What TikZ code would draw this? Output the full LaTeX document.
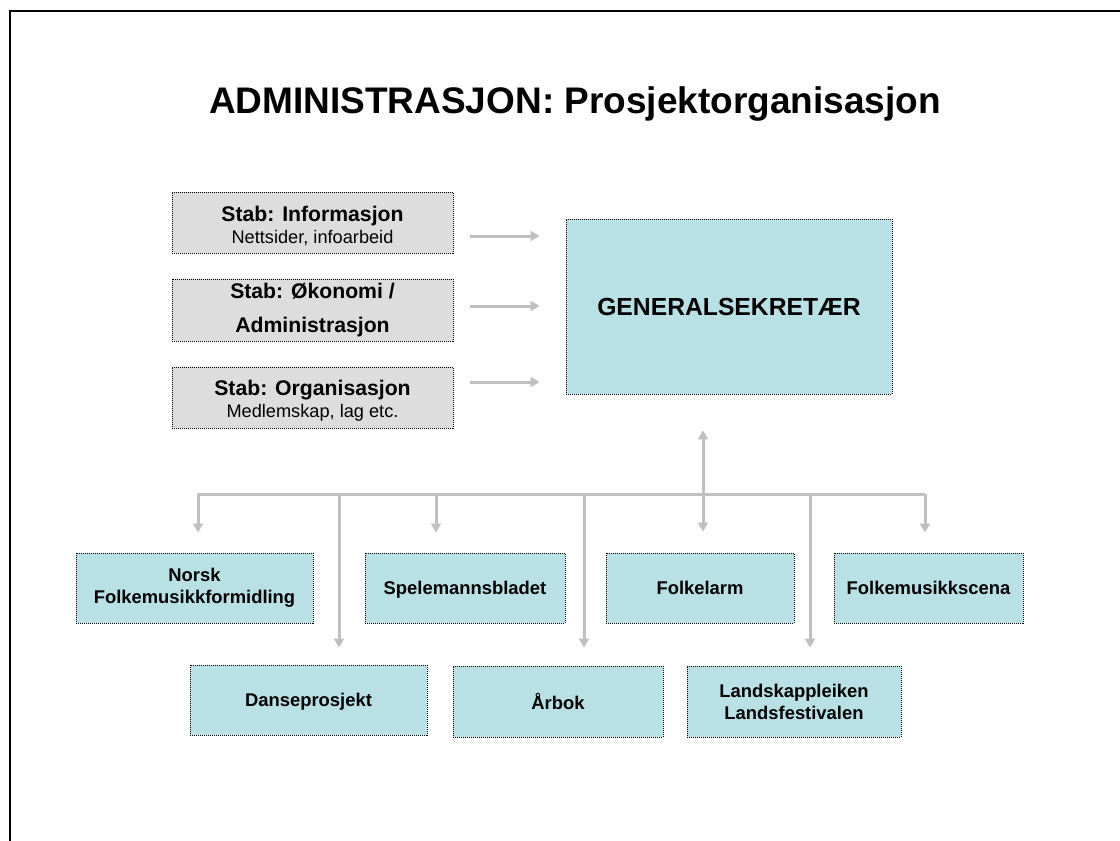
\documentclass[tikz,border=0pt]{standalone}
\usepackage{fontspec}
\setmainfont{Liberation Sans}
\usetikzlibrary{arrows.meta,calc}
\definecolor{boxcyan}{RGB}{185,224,228}
\definecolor{boxgray}{RGB}{221,221,221}
\definecolor{arrowgray}{RGB}{192,192,192}
\tikzset{
  orgbox/.style={draw=black, line width=0.9pt, dash pattern=on 1pt off 1pt,
    fill=boxcyan, align=center, inner sep=0pt,
    font=\fontsize{18.4}{22}\selectfont\bfseries},
  stabbox/.style={orgbox, fill=boxgray, minimum width=281pt,
    font=\fontsize{21.2}{22}\selectfont\bfseries},
  conn/.style={draw=arrowgray, line width=3pt,
    -{Triangle[length=9pt,width=10pt]}},
  bus/.style={draw=arrowgray, line width=3pt},
}
\newcommand{\subline}[1]{\fontsize{18.2}{22}\selectfont\mdseries #1}
\newcommand{\nodepth}[1]{\raisebox{0pt}[\height][0pt]{#1}}
\newcommand{\tallstrut}{\rule{0pt}{22.5pt}}
\begin{document}
\begin{tikzpicture}[x=1pt,y=-1pt]
\useasboundingbox (0,0) rectangle (1120,841);
\draw[line width=2pt] (10,841) -- (10,11) -- (1120,11);

\node[anchor=base, font=\fontsize{37}{40}\selectfont\bfseries] (title) at (575,113) {ADMINISTRASJON: Prosjektorganisasjon};

% staff boxes
\node[stabbox, minimum height=61pt] (s1) at (312.5,222.5)
  {\tallstrut Stab: Informasjon\\\subline{Nettsider, infoarbeid}};
\node[stabbox, minimum height=62pt, font=\fontsize{21.2}{34}\selectfont\bfseries] (s2) at (312.5,310)
  {Stab: Økonomi /\\Administrasjon};
\node[stabbox, minimum height=61pt] (s3) at (312.5,397.5)
  {\tallstrut Stab: Organisasjon\\\subline{Medlemskap, lag etc.}};

% general secretary
\node[orgbox, minimum width=326pt, minimum height=175pt,
  font=\fontsize{24.7}{28}\selectfont\bfseries] (gs) at (729,306.5) {GENERALSEKRETÆR};

% project boxes, row 1
\node[orgbox, minimum width=237pt, minimum height=70pt] (nf) at (194.5,588) {Norsk\\Folkemusikkformidling};
\node[orgbox, minimum width=200pt, minimum height=70pt] (sp) at (465,588) {\nodepth{Spelemannsbladet}};
\node[orgbox, minimum width=188pt, minimum height=70pt] (fl) at (700,588) {Folkelarm};
\node[orgbox, minimum width=189pt, minimum height=70pt] (fs) at (928.5,588) {Folkemusikkscena};
% row 2
\node[orgbox, minimum width=237pt, minimum height=70pt] (dp) at (308.5,700) {\nodepth{Danseprosjekt}};
\node[orgbox, minimum width=210pt, minimum height=71pt] (ab) at (558,701.5) {Årbok};
\node[orgbox, minimum width=214pt, minimum height=71pt] (lk) at (794,701.5) {Landskappleiken\\Landsfestivalen};

% staff arrows
\coordinate (a1) at (0,236);
\coordinate (a2) at (0,306);
\coordinate (a3) at (0,382);
\draw[conn, shorten <=17pt, shorten >=26pt] (s1.east |- a1) -- (gs.west |- a1);
\draw[conn, shorten <=17pt, shorten >=26pt] (s2.east |- a2) -- (gs.west |- a2);
\draw[conn, shorten <=17pt, shorten >=26pt] (s3.east |- a3) -- (gs.west |- a3);

% bus
\coordinate (bl) at (198,494);
\coordinate (br) at (925,494);
\coordinate (xdp) at (339,494);
\coordinate (xsp) at (436,494);
\coordinate (xab) at (584,494);
\coordinate (xfl) at (703,494);
\coordinate (xlk) at (810,494);
\draw[bus] (bl) -- (br);
\draw[conn, shorten >=20pt] (bl) -- (bl |- nf.north);
\draw[conn, shorten >=17pt] (xdp) -- (xdp |- dp.north);
\draw[conn, shorten >=20pt] (xsp) -- (xsp |- sp.north);
\draw[conn, shorten >=18pt] (xab) -- (xab |- ab.north);
\draw[conn, shorten >=18pt] (xlk) -- (xlk |- lk.north);
\draw[conn, shorten >=20pt] (br) -- (br |- fs.north);
\draw[conn, {Triangle[length=9pt,width=10pt]}-{Triangle[length=9pt,width=10pt]},
  shorten <=36pt, shorten >=21pt] (xfl |- gs.south) -- (xfl |- fl.north);
\end{tikzpicture}
\end{document}
